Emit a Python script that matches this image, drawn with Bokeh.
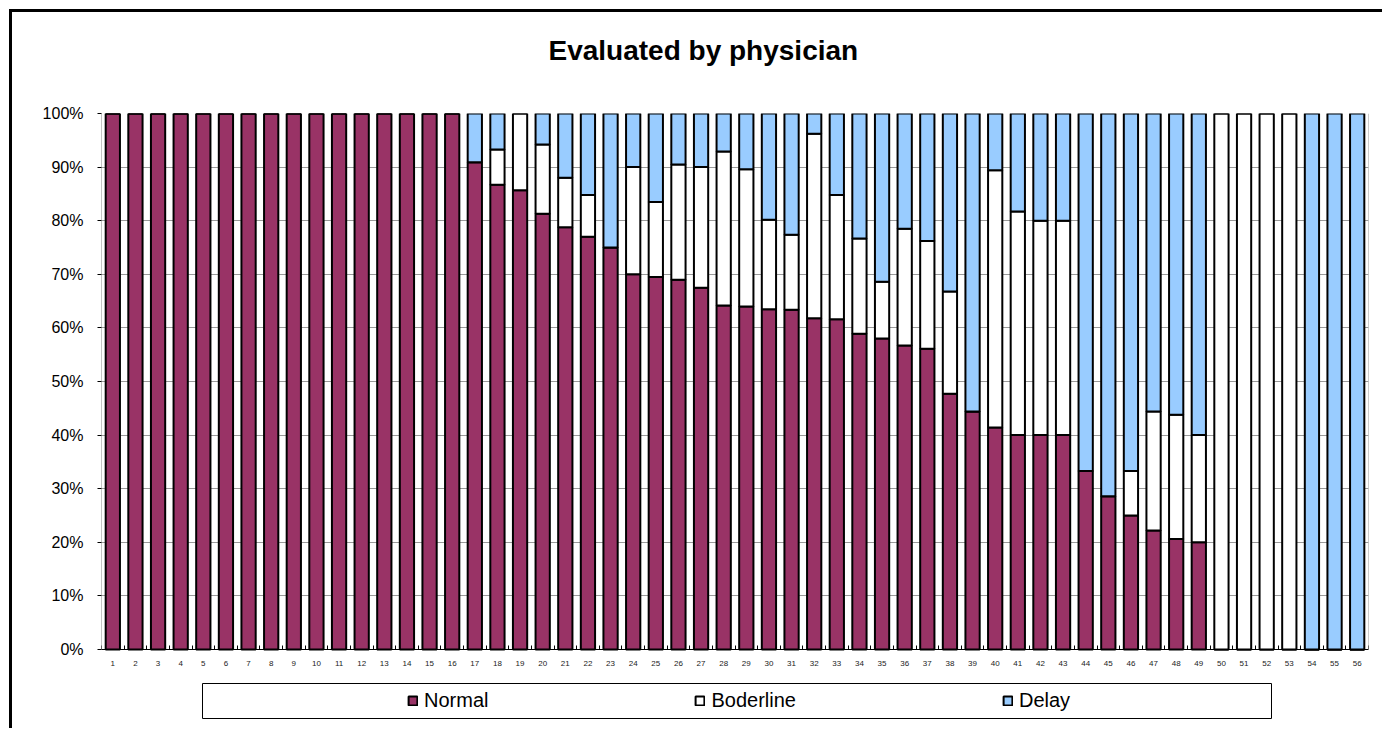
from bokeh.plotting import figure
from bokeh.models import (ColumnDataSource, FixedTicker, PrintfTickFormatter, Range1d,
                          Legend, LegendItem, LinearAxis, BoxAnnotation)
from bokeh.embed import file_html
from bokeh.resources import INLINE

# ---- data (percent of evaluations per subject) ----
subjects = [1, 2, 3, 4, 5, 6, 7, 8, 9, 10, 11, 12, 13, 14, 15, 16, 17, 18, 19, 20,
            21, 22, 23, 24, 25, 26, 27, 28, 29, 30, 31, 32, 33, 34, 35, 36, 37, 38, 39, 40,
            41, 42, 43, 44, 45, 46, 47, 48, 49, 50, 51, 52, 53, 54, 55, 56]
normal = [100, 100, 100, 100, 100, 100, 100, 100, 100, 100, 100, 100, 100, 100, 100, 100,
          90.9, 86.7, 85.7, 81.3, 78.8, 77.0, 75.0, 70.0, 69.5, 69.0, 67.5, 64.2, 64.0, 63.5,
          63.4, 61.8, 61.6, 58.9, 58.0, 56.7, 56.1, 47.7, 44.4, 41.4, 40.0, 40.0, 40.0, 33.3,
          28.6, 25.0, 22.2, 20.6, 20.0, 0, 0, 0, 0, 0, 0, 0]
borderline = [0, 0, 0, 0, 0, 0, 0, 0, 0, 0, 0, 0, 0, 0, 0, 0,
              0, 6.6, 14.3, 12.9, 9.2, 7.8, 0, 20.0, 14.0, 21.5, 22.5, 28.7, 25.6, 16.7,
              14.0, 34.4, 23.2, 17.8, 10.6, 21.8, 20.1, 19.1, 0, 48.0, 41.7, 40.0, 40.0, 0,
              0, 8.3, 22.2, 23.2, 20.0, 100, 100, 100, 100, 0, 0, 0]
delay = [0, 0, 0, 0, 0, 0, 0, 0, 0, 0, 0, 0, 0, 0, 0, 0,
         9.1, 6.7, 0, 5.8, 12.0, 15.2, 25.0, 10.0, 16.5, 9.5, 10.0, 7.1, 10.4, 19.8,
         22.6, 3.8, 15.2, 23.3, 31.4, 21.5, 23.8, 33.2, 55.6, 10.6, 18.3, 20.0, 20.0, 66.7,
         71.4, 66.7, 55.6, 56.2, 60.0, 0, 0, 0, 0, 100, 100, 100]
series_names = ["Normal", "Boderline", "Delay"]
series_colors = ["#993366", "#FFFFFF", "#99CCFF"]
y_ticks = [0, 10, 20, 30, 40, 50, 60, 70, 80, 90, 100]
title_text = "Evaluated by physician"

FONT = "Liberation Sans"

# layout (pixels): plot area 0%..100% is 536 px tall, with 82 px kept below 0% for labels + legend
PLOT_PX = 536
BELOW_PX = 82
x_lo, x_hi = 0.5, len(subjects) + 0.5
y_lo, y_hi = -100.0 * BELOW_PX / PLOT_PX, 100

source = ColumnDataSource(dict(x=subjects, normal=normal, border=borderline, delay=delay))

p = figure(width=1373, height=719, output_backend="svg", toolbar_location=None,
           x_range=Range1d(x_lo, x_hi), y_range=Range1d(y_lo, y_hi),
           x_axis_location=None,
           min_border_left=89, min_border_right=17, min_border_top=101, min_border_bottom=0,
           title=title_text)
p.styles = {"margin-left": "9px", "margin-top": "9px",
            "border-left": "3px solid black", "border-top": "3px solid black"}
p.background_fill_color = "white"
p.border_fill_color = "white"
p.outline_line_color = None

p.title.align = "left"
p.title.offset = 447
p.title.text_font = FONT
p.title.text_font_size = "28px"
p.title.text_font_style = "bold"
p.title.text_color = "black"
if "padding" in p.title.properties():
    p.title.padding = (0, 0, 0, 48)
    p.title.standoff = 0
else:
    p.title.standoff = 66

# plot-area side borders (left grey axis line, right grey frame line)
p.segment(x0=[x_lo, x_hi], y0=[0, 0], x1=[x_lo, x_hi], y1=[y_hi, y_hi],
          line_color=["#888888", "#999999"], line_width=1)

renderers = p.vbar_stack(["normal", "border", "delay"], x="x", width=0.63, source=source,
                         fill_color=series_colors, line_color="black", line_width=2)

# grids
p.xgrid.grid_line_color = None
p.ygrid.grid_line_color = "#999999"
p.ygrid.grid_line_width = 1
p.ygrid.ticker = FixedTicker(ticks=y_ticks)

# y axis
p.yaxis.ticker = FixedTicker(ticks=y_ticks)
p.yaxis.formatter = PrintfTickFormatter(format="%d%%")
p.yaxis.axis_line_color = None
p.yaxis.major_tick_line_color = "black"
p.yaxis.major_tick_out = 4
p.yaxis.major_tick_in = 0
p.yaxis.minor_tick_line_color = None
p.yaxis.major_label_text_font = FONT
p.yaxis.major_label_text_font_size = "16px"
p.yaxis.major_label_text_color = "black"
p.yaxis.major_label_standoff = 14

# x axis drawn at 0%
xaxis = LinearAxis(fixed_location=0,
                   ticker=FixedTicker(ticks=subjects,
                                      minor_ticks=[i + 0.5 for i in range(len(subjects) + 1)]),
                   axis_line_color="black", axis_line_width=1,
                   major_tick_line_color=None,
                   minor_tick_line_color="black", minor_tick_in=4, minor_tick_out=0,
                   major_label_text_font=FONT, major_label_text_font_size="8px",
                   major_label_text_color="#222222", major_label_standoff=5)
p.add_layout(xaxis, "below")

# legend box (canvas pixels) and legend entries
p.add_layout(BoxAnnotation(left=187, right=1256, top=668, bottom=703,
                           left_units="canvas", right_units="canvas",
                           top_units="canvas", bottom_units="canvas",
                           fill_color="white", fill_alpha=1,
                           line_color="black", line_width=1, line_alpha=1))
legend = Legend(items=[LegendItem(label=n, renderers=[r]) for n, r in zip(series_names, renderers)],
                orientation="horizontal", location=(300, 13),
                glyph_width=11, glyph_height=11, label_standoff=6, label_width=0,
                spacing=206, padding=6, margin=0,
                label_text_font=FONT, label_text_font_size="20px", label_text_color="black",
                border_line_alpha=0, background_fill_alpha=0)
p.add_layout(legend, "center")

open("out.html", "w").write(file_html(p, INLINE))
